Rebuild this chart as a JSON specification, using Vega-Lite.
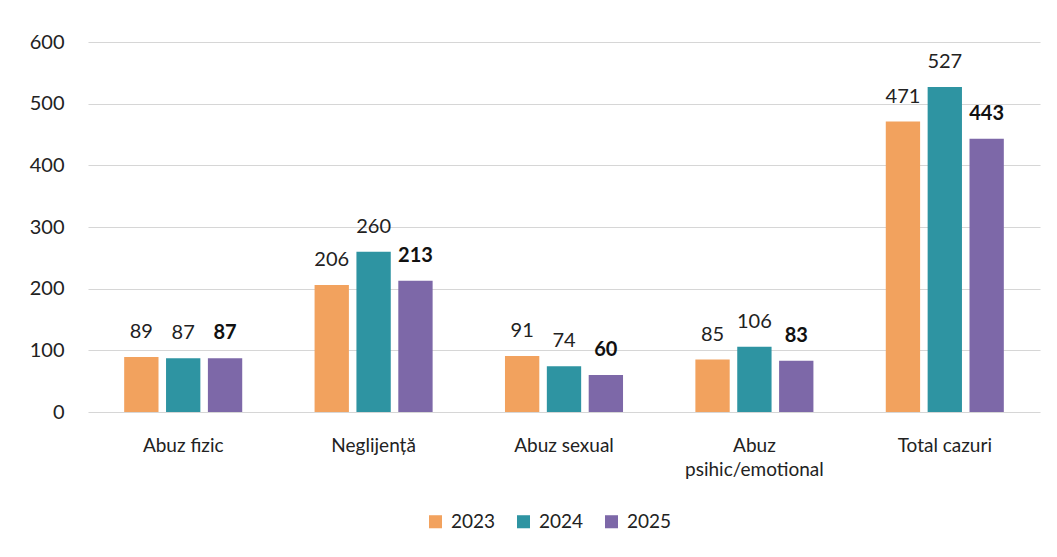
{
  "$schema": "https://vega.github.io/schema/vega-lite/v6.json",
  "autosize": {"type": "none"},
  "width": 952,
  "height": 370,
  "padding": {"left": 88, "top": 42, "right": 17, "bottom": 145},
  "background": "white",
  "data": {
    "values": [
      {"cat": "Abuz fizic", "year": "2023", "v": 89},
      {"cat": "Abuz fizic", "year": "2024", "v": 87},
      {"cat": "Abuz fizic", "year": "2025", "v": 87},
      {"cat": "Neglijență", "year": "2023", "v": 206},
      {"cat": "Neglijență", "year": "2024", "v": 260},
      {"cat": "Neglijență", "year": "2025", "v": 213},
      {"cat": "Abuz sexual", "year": "2023", "v": 91},
      {"cat": "Abuz sexual", "year": "2024", "v": 74},
      {"cat": "Abuz sexual", "year": "2025", "v": 60},
      {"cat": "Abuz psihic/emotional", "year": "2023", "v": 85},
      {"cat": "Abuz psihic/emotional", "year": "2024", "v": 106},
      {"cat": "Abuz psihic/emotional", "year": "2025", "v": 83},
      {"cat": "Total cazuri", "year": "2023", "v": 471},
      {"cat": "Total cazuri", "year": "2024", "v": 527},
      {"cat": "Total cazuri", "year": "2025", "v": 443}
    ]
  },
  "encoding": {
    "x": {
      "field": "cat", "type": "nominal", "sort": null,
      "scale": {"paddingInner": 0.38, "paddingOuter": 0.19},
      "axis": {
        "title": null, "labelAngle": 0, "domain": false, "ticks": false,
        "labelFont": "Lato", "labelFontSize": 19, "labelColor": "#222222",
        "labelPadding": 24, "labelLineHeight": 24,
        "labelExpr": "datum.label == 'Abuz psihic/emotional' ? ['Abuz', 'psihic/emotional'] : datum.label"
      }
    },
    "xOffset": {"field": "year", "type": "nominal", "scale": {"paddingInner": 0.18}},
    "y": {
      "field": "v", "type": "quantitative",
      "scale": {"domain": [0, 600]},
      "axis": {
        "title": null, "tickCount": 6, "domain": false, "ticks": false,
        "labelFont": "Lato", "labelFontSize": 20, "labelColor": "#222222",
        "labelPadding": 24, "gridColor": "#d6d6d6", "gridWidth": 1.2
      }
    }
  },
  "layer": [
    {
      "mark": {"type": "bar"},
      "encoding": {
        "color": {
          "field": "year", "type": "nominal",
          "scale": {"domain": ["2023", "2024", "2025"], "range": ["#F2A25E", "#2E94A2", "#7D68A8"]},
          "legend": {
            "title": null, "orient": "none", "direction": "horizontal",
            "legendX": 338, "legendY": 470,
            "symbolType": "square", "symbolSize": 170, "symbolStrokeWidth": 0,
            "labelFont": "Lato", "labelFontSize": 19, "labelColor": "#222222",
            "columnPadding": 18, "labelOffset": 6
          }
        }
      }
    },
    {
      "transform": [{"filter": "datum.year != '2025'"}],
      "mark": {"type": "text", "baseline": "alphabetic", "dy": -19, "font": "Lato", "fontSize": 20, "color": "#222222"},
      "encoding": {
        "text": {"field": "v", "type": "quantitative"}
      }
    },
    {
      "transform": [{"filter": "datum.year == '2025'"}],
      "mark": {"type": "text", "baseline": "alphabetic", "dy": -19, "font": "Lato", "fontSize": 20, "fontWeight": "bold", "color": "#111111"},
      "encoding": {
        "text": {"field": "v", "type": "quantitative"}
      }
    }
  ],
  "config": {"view": {"stroke": null}}
}
